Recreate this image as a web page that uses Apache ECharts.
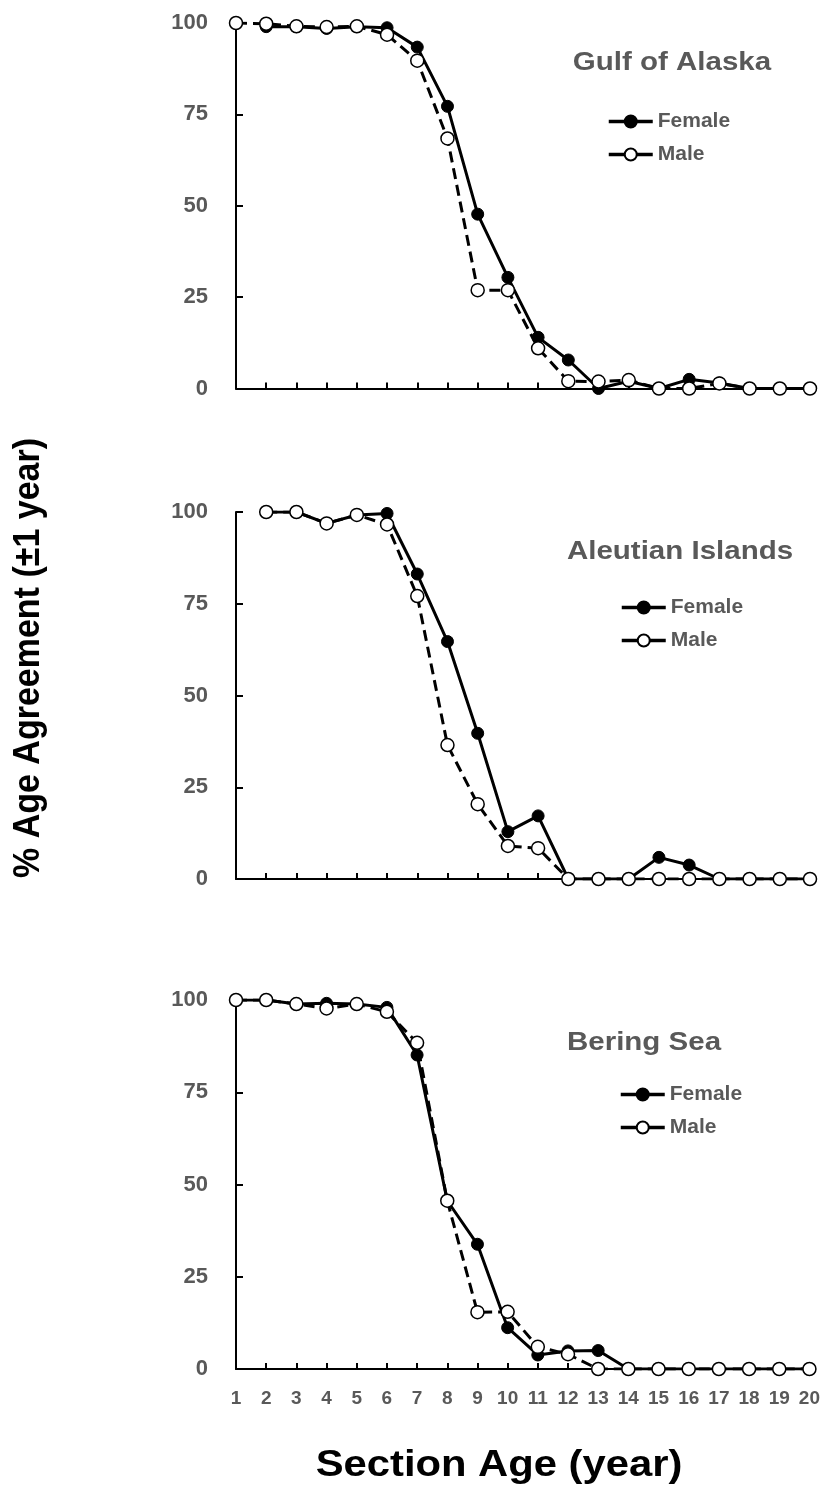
<!DOCTYPE html>
<html>
<head>
<meta charset="utf-8">
<script src="https://cdn.jsdelivr.net/npm/echarts@6/dist/echarts.min.js"></script>
<style>
  html, body { margin: 0; padding: 0; background: #fff; }
  #chart { width: 823px; height: 1504px; }
</style>
</head>
<body>
<div id="chart"></div>
<script>
// Section age categories (years)
const ages = ['1','2','3','4','5','6','7','8','9','10','11','12','13','14','15','16','17','18','19','20'];
const yTicks = [0, 25, 50, 75, 100];

// % age agreement (±1 year) by region and sex; null = no fish at that age
const gulfFemale     = [null, 99, 99, 98.5, 99, 98.7, 93.4, 77.2, 47.7, 30.4, 14.0, 7.8, 0, 2.0, 0, 2.5, 1.5, 0, 0, 0];
const gulfMale       = [100, 99.8, 99.1, 98.9, 99.1, 96.8, 89.7, 68.4, 26.9, 26.9, 11.0, 2.0, 1.9, 2.3, 0, 0, 1.4, 0, 0, 0];
const aleutianFemale = [null, 100, 100, 96.9, 99.2, 99.6, 83.1, 64.7, 39.7, 12.9, 17.2, 0, 0, 0, 5.9, 3.8, 0, 0, 0, 0];
const aleutianMale   = [null, 100, 100, 96.9, 99.2, 96.6, 77.1, 36.5, 20.4, 9.0, 8.4, 0, 0, 0, 0, 0, 0, 0, 0, 0];
const beringFemale   = [100, 100, 98.9, 99.1, 98.9, 98.0, 85.1, 45.6, 33.8, 11.2, 3.8, 4.9, 5.0, 0, 0, 0, 0, 0, 0, 0];
const beringMale     = [100, 100, 98.9, 97.7, 98.9, 96.8, 88.4, 45.6, 15.4, 15.5, 6.0, 4.0, 0, 0, 0, 0, 0, 0, 0, 0];

const regions = ['Gulf of Alaska', 'Aleutian Islands', 'Bering Sea'];
const seriesNames = ['Female', 'Male'];

const FONT = "'Liberation Sans', Arial, sans-serif";
const GRAY = '#595959';

// panel layout: plot-area top and bottom (pixels)
const panels = [
  { top: 23,   bottom: 388.5, data: [gulfFemale, gulfMale],         title: [672, 63],   legend: [607, 120] },
  { top: 512,  bottom: 879,   data: [aleutianFemale, aleutianMale], title: [680, 552],  legend: [620, 606] },
  { top: 1000, bottom: 1369,  data: [beringFemale, beringMale],     title: [644, 1043], legend: [619, 1093] }
];

const grid = [], xAxis = [], yAxis = [], series = [], legend = [], graphic = [];

panels.forEach((p, i) => {
  grid.push({ left: 236, width: 574, top: p.top, height: p.bottom - p.top, containLabel: false });
  xAxis.push({
    type: 'category', gridIndex: i, data: ages, boundaryGap: false,
    axisLine: { lineStyle: { color: '#000', width: 2 } },
    axisTick: { inside: true, length: 6, interval: 0, lineStyle: { color: '#000', width: 2 } },
    axisLabel: {
      show: i === 2, interval: 0, margin: 20,
      fontFamily: FONT, fontSize: 19, fontWeight: 'bold', color: GRAY
    },
    splitLine: { show: false }
  });
  yAxis.push({
    type: 'value', gridIndex: i, min: yTicks[0], max: yTicks[yTicks.length - 1], interval: 25,
    axisLine: { show: true, lineStyle: { color: '#000', width: 2 } },
    axisTick: { show: true, inside: true, length: 7, lineStyle: { color: '#000', width: 2 } },
    axisLabel: { margin: 28, fontFamily: FONT, fontSize: 22, fontWeight: 'bold', color: GRAY },
    splitLine: { show: false }
  });
  // Female: solid line, filled markers
  series.push({
    name: seriesNames[0], type: 'line', xAxisIndex: i, yAxisIndex: i,
    data: p.data[0], symbol: 'circle', symbolSize: 12, showAllSymbol: true,
    lineStyle: { color: '#000', width: 3, type: 'solid' },
    itemStyle: { color: '#000', borderColor: '#000', borderWidth: 1 },
    z: 2, animation: false
  });
  // Male: dashed line, open markers
  series.push({
    name: seriesNames[1], type: 'line', xAxisIndex: i, yAxisIndex: i,
    data: p.data[1], symbol: 'circle', symbolSize: 13, showAllSymbol: true,
    lineStyle: { color: '#000', width: 3, type: [11, 6] },
    itemStyle: { color: '#fff', borderColor: '#000', borderWidth: 1.5 },
    z: 3, animation: false
  });
  legend.push({
    orient: 'vertical', left: p.legend[0], top: p.legend[1] - 9, padding: 0,
    itemWidth: 44, itemHeight: 15, itemGap: 12,
    data: seriesNames,
    lineStyle: { type: 'solid', width: 3.5 },
    textStyle: { fontFamily: FONT, fontSize: 21, fontWeight: 'bold', color: GRAY },
    selectedMode: false
  });
  graphic.push({
    type: 'text', x: p.title[0], y: p.title[1], scaleX: 1.18,
    style: { text: regions[i], font: 'bold 25px ' + FONT, fill: GRAY, align: 'center', verticalAlign: 'middle' }
  });
});

// axis titles
graphic.push({
  type: 'text', x: 499, y: 1466, scaleX: 1.16,
  style: { text: 'Section Age (year)', font: 'bold 36px ' + FONT, fill: '#000', align: 'center', verticalAlign: 'middle' }
});
graphic.push({
  type: 'text', x: 29, y: 658, rotation: Math.PI / 2, scaleY: 1.08,
  style: { text: '% Age Agreement (±1 year)', font: 'bold 34px ' + FONT, fill: '#000', align: 'center', verticalAlign: 'middle' }
});

const chart = echarts.init(document.getElementById('chart'), null, { renderer: 'canvas' });
chart.setOption({
  animation: false,
  backgroundColor: '#fff',
  grid, xAxis, yAxis, series, legend, graphic
});
</script>
</body>
</html>
